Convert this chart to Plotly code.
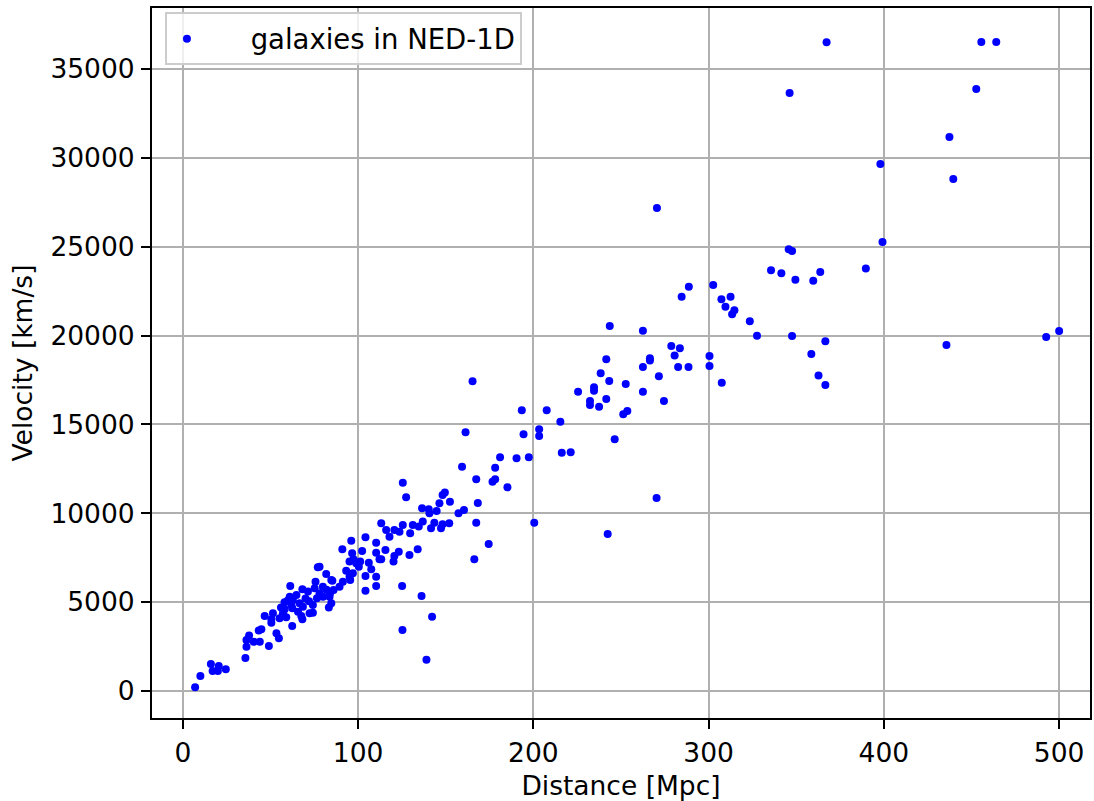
import plotly.graph_objects as go

# Distance [Mpc]
distance = [
    7, 10, 16, 17, 20.5, 20, 24.5, 35.7, 36.3, 36.3, 37.8, 40.4, 43.9, 43.3, 44.8,
    46.7, 49.1, 50.5, 50.5, 51.4, 53.4, 54.8, 55.2, 57.1, 59, 58.1, 61.9, 62.8, 61, 64.8,
    66.6, 68.5, 65.7, 67.6, 72.3, 74.2, 76.5, 62.4, 68.2, 74.2, 61.3, 68.2, 71.4, 75.2, 75.7,
    77, 78, 81.8, 85.3, 79.9, 83.3, 84.7, 83.7, 62.5, 56, 58, 60, 70, 72, 80, 78, 84, 82,
    86, 89.4, 84.7, 91.3, 95.5, 93.2, 95.1, 97, 95.1, 97.4, 98.9, 100.4, 101.2, 106.1, 104.2,
    107.5, 110.3, 110.3, 104.2, 125.1, 91, 96.1, 96.6, 102.3, 104.2, 110.3, 110.3, 112.2, 115.6,
    123.2, 120.2, 120.7, 129.3, 134, 113.2,
    113.2, 116, 120.7, 125.5, 131.2, 129.7, 117.9, 123.6, 134.6, 136.9, 141.6, 143.5, 147.3, 152, 148.2,
    125.5, 127.4, 136.5, 140.3, 140.7, 144.8, 146.4, 148.2, 149.5, 152.4, 157.3, 160.4, 168.3, 167.4,
    159.3, 161.3, 165.3, 167.4, 174.5, 166.3, 176.7, 178.2, 178.2, 181, 185.2, 190.4, 193.4, 194.4,
    197.4, 200.5, 203.3, 203.3, 207.6, 215.4, 216.2, 221.3,
    136.2, 142.2, 125.3, 139,
    225.5, 232.3, 232.3, 234.6, 234.6, 237.5, 238.4, 241.6, 241.6, 243.3, 243.6, 246.4, 251.3, 253.6,
    252.7, 262.5, 262.5, 262.5, 266.5, 266.5, 270.5, 271.6, 274.5, 278.7, 280.6, 282.6, 283.6, 284.6,
    288.5, 288.7, 300.5, 300.5, 302.6, 307.3, 307.5, 309.6, 312.5, 313.4, 314.7, 323.5, 327.6, 335.6,
    341.5, 345.7, 347.6, 346.2, 347.6, 349.5, 358.6, 359.7, 362.7, 363.7, 366.6, 366.6, 367.3, 389.7,
    398, 399.2, 435.7, 437.4, 439.6, 452.7, 455.6, 464.1, 492.6, 500,
    242.4, 270.3,
]

# Velocity [km/s]
velocity = [
    210, 850, 1520, 1130, 1400, 1130, 1220, 1850, 2490, 2870, 3120, 2775, 2775, 3400, 3470,
    4220, 2530, 3845, 4035, 4370, 3250, 2966, 4090, 4370, 4147, 4597, 4840, 5120, 5307, 5400,
    4935, 4744, 4460, 4220, 4370, 4840, 5215, 3657, 4033, 4407, 5908, 5720, 5600, 5778, 6150,
    6960, 6995, 6580, 6205, 5870, 4700, 4935, 5307, 4650, 4700, 5000, 5100, 5200, 5050, 5300, 5500, 5500, 5700,
    5683, 5870, 6245, 6150, 6245, 6770, 6430, 6620, 7280, 7410, 7185, 6995, 7280, 7220, 6470,
    6850, 6430, 5910, 5645, 5910, 7975, 8460, 7750, 7880, 8650, 8345, 7780, 7410, 7935,
    7840, 7280, 7600, 7650, 7975, 7410,
    9440, 9060, 9060, 9340, 9340, 8870, 8680, 8960, 9250, 9530, 9150, 9470, 9150, 9440, 9380,
    11720, 10900, 10280, 10225, 10000, 10130, 10560, 11030, 11170, 10650, 10000, 10185, 10580, 9470,
    12620, 14557, 17427, 11912, 8270, 7410, 11777, 11912, 12565, 13150, 11462, 13094, 15800, 14450,
    13150, 9470, 14725, 14350, 15790, 15155, 13410, 13430,
    5345, 4180, 3430, 1760,
    16842, 16318, 16093, 16898, 17090, 15998, 17877, 16430, 18665, 17443, 20538, 14163, 15570, 15755,
    17275, 20274, 18232, 16842, 18720, 18590, 27178, 17708, 16318, 19413, 18870, 18232, 19284, 22187,
    18232, 22750, 18850, 18288, 22846, 22040, 17348, 21624, 22187, 21197, 21420, 20803, 19993, 23672,
    23503, 24855, 24759, 33650, 19976, 23146, 18962, 23090, 17746, 23577, 19678, 17219, 36500, 23766,
    29650, 25265, 19470, 31170, 28810, 33875, 36520, 36520, 19920, 20260,
    8834, 10860,
]

x_ticks = [0, 100, 200, 300, 400, 500]
y_ticks = [0, 5000, 10000, 15000, 20000, 25000, 30000, 35000]

FONT = "DejaVu Sans"
FS = 26.5

fig = go.Figure()
fig.add_trace(go.Scatter(
    x=distance, y=velocity, mode="markers",
    name="\u00a0\u00a0\u00a0\u00a0\u00a0galaxies in NED-1D",
    marker=dict(color="#0000ff", size=8, line=dict(width=0)),
))

axis_common = dict(
    showgrid=True, gridcolor="#b0b0b0", gridwidth=2,
    zeroline=False, showline=True, linecolor="black", linewidth=2, mirror=True,
    ticks="outside", ticklen=9, tickwidth=2, tickcolor="black",
    tickfont=dict(family=FONT, size=FS, color="black"),
)

fig.update_xaxes(
    range=[-17.6, 517.6], tickvals=x_ticks, ticktext=[str(v) for v in x_ticks],
    title=dict(text="Distance [Mpc]", font=dict(family=FONT, size=FS, color="black"), standoff=10),
    ticklabelstandoff=1,
    **axis_common,
)
fig.update_yaxes(
    range=[-1520, 38430], tickvals=y_ticks, ticktext=[str(v) for v in y_ticks],
    title=dict(text="Velocity [km/s]", font=dict(family=FONT, size=FS, color="black"), standoff=10),
    ticklabelstandoff=1,
    **axis_common,
)

fig.update_layout(
    width=1094, height=801,
    margin=dict(l=152, r=2, t=8, b=83),
    plot_bgcolor="white", paper_bgcolor="white",
    font=dict(family=FONT, size=FS, color="black"),
    showlegend=True,
    legend=dict(
        x=0.0138, y=0.994, xanchor="left", yanchor="top",
        bgcolor="rgba(255,255,255,0.8)", bordercolor="#cccccc", borderwidth=2,
        font=dict(family=FONT, size=27.5, color="black"),
        itemwidth=30,
    ),
)

fig.write_html("out.html")
